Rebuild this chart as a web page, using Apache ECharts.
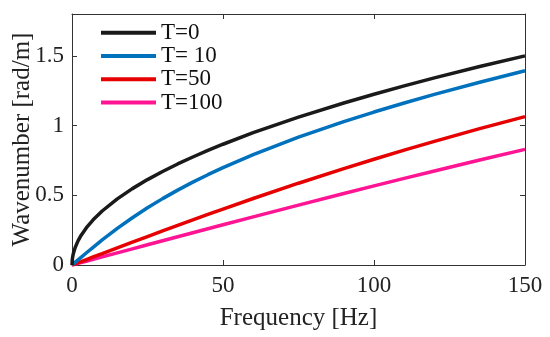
<!DOCTYPE html>
<html>
<head>
<meta charset="utf-8">
<script src="https://cdn.jsdelivr.net/npm/echarts@6/dist/echarts.min.js"></script>
<style>html,body{margin:0;padding:0;background:#fff}#c{width:550px;height:337px}</style>
</head>
<body>
<div id="c"></div>
<script>
var freq  = [0, 0.1, 0.25, 0.5, 1, 2, 3, 5, 7, 10, 15, 20, 25, 30, 35, 40, 45, 50, 60, 75, 90, 100, 110, 120, 135, 150];
var kT0   = [0, 0.0387, 0.0612, 0.0866, 0.1225, 0.1732, 0.2121, 0.2739, 0.3240, 0.3873, 0.4743, 0.5477, 0.6124, 0.6708, 0.7246, 0.7746, 0.8216, 0.8660, 0.9487, 1.0607, 1.1619, 1.2247, 1.2845, 1.3416, 1.4230, 1.5000];
var kT10  = [0, 0.0018, 0.0046, 0.0092, 0.0184, 0.0367, 0.0551, 0.0913, 0.1271, 0.1794, 0.2623, 0.3392, 0.4103, 0.4760, 0.5371, 0.5941, 0.6476, 0.6981, 0.7914, 0.9165, 1.0282, 1.0969, 1.1618, 1.2236, 1.3110, 1.3932];
var kT50  = [0, 0.0008, 0.0021, 0.0041, 0.0082, 0.0164, 0.0246, 0.0411, 0.0575, 0.0820, 0.1229, 0.1636, 0.2040, 0.2442, 0.2840, 0.3235, 0.3625, 0.4011, 0.4768, 0.5865, 0.6914, 0.7585, 0.8236, 0.8867, 0.9776, 1.0644];
var kT100 = [0, 0.0006, 0.0015, 0.0029, 0.0058, 0.0116, 0.0174, 0.0290, 0.0407, 0.0581, 0.0871, 0.1160, 0.1450, 0.1739, 0.2027, 0.2314, 0.2600, 0.2886, 0.3454, 0.4297, 0.5127, 0.5673, 0.6212, 0.6744, 0.7528, 0.8295];
var seriesNames = ['T=0', 'T= 10', 'T=50', 'T=100'];
var seriesColors = ['#1a1a1a', '#0072BD', '#E60000', '#FF1493'];
var xTicks = [0, 50, 100, 150];
var yTicks = [0, 0.5, 1, 1.5];

var font = 'Liberation Serif';
function pairs(ys){ return freq.map(function(f,i){ return [f, ys[i]]; }); }
var allY = [kT0, kT10, kT50, kT100];
var series = allY.map(function(ys, i){
  return {
    name: seriesNames[i], type: 'line', data: pairs(ys), showSymbol: false,
    smooth: false, xAxisIndex: 0, yAxisIndex: 0,
    lineStyle: {color: seriesColors[i], width: 3.5}, itemStyle: {color: seriesColors[i]}, z: 10 - i
  };
});
var axisLine = {show: true, onZero: false, lineStyle: {color: '#333', width: 1}};
var tick = {show: true, inside: true, length: 5, lineStyle: {color: '#333'}};
var chart = echarts.init(document.getElementById('c'), null, {renderer: 'canvas'});
chart.setOption({
  animation: false,
  backgroundColor: '#fff',
  grid: {left: 72, right: 25, top: 14, bottom: 72, containLabel: false, outerBoundsMode: 'none'},
  legend: {
    show: true, orient: 'vertical', left: 101, top: 21, padding: 0, itemWidth: 55, itemHeight: 4, itemGap: 0,
    icon: 'rect', data: seriesNames,
    textStyle: {fontFamily: font, fontSize: 23, color: '#111', lineHeight: 23.3}
  },
  xAxis: [
    {type: 'value', min: 0, max: 150, interval: 50, position: 'bottom',
     name: 'Frequency [Hz]', nameLocation: 'middle', nameGap: 41, nameMoveOverlap: false,
     nameTextStyle: {fontFamily: font, fontSize: 25, color: '#222'},
     axisLine: axisLine, axisTick: tick, splitLine: {show: false},
     axisLabel: {fontFamily: font, fontSize: 23, color: '#222', margin: 9}},
    {type: 'value', min: 0, max: 150, interval: 50, position: 'top',
     axisLine: axisLine, axisTick: tick, splitLine: {show: false}, axisLabel: {show: false}}
  ],
  yAxis: [
    {type: 'value', min: 0, max: 1.8, interval: 0.5, position: 'left',
     name: 'Wavenumber [rad/m]', nameLocation: 'middle', nameGap: 37, nameMoveOverlap: false,
     nameTextStyle: {fontFamily: font, fontSize: 25, color: '#222'},
     axisLine: axisLine, axisTick: tick, splitLine: {show: false},
     axisLabel: {fontFamily: font, fontSize: 23, color: '#222', margin: 8,
       formatter: function(v){ return yTicks.indexOf(v) >= 0 ? String(v) : ''; }}},
    {type: 'value', min: 0, max: 1.8, interval: 0.5, position: 'right',
     axisLine: axisLine, axisTick: tick, splitLine: {show: false}, axisLabel: {show: false}}
  ],
  series: series
});
</script>
</body>
</html>
